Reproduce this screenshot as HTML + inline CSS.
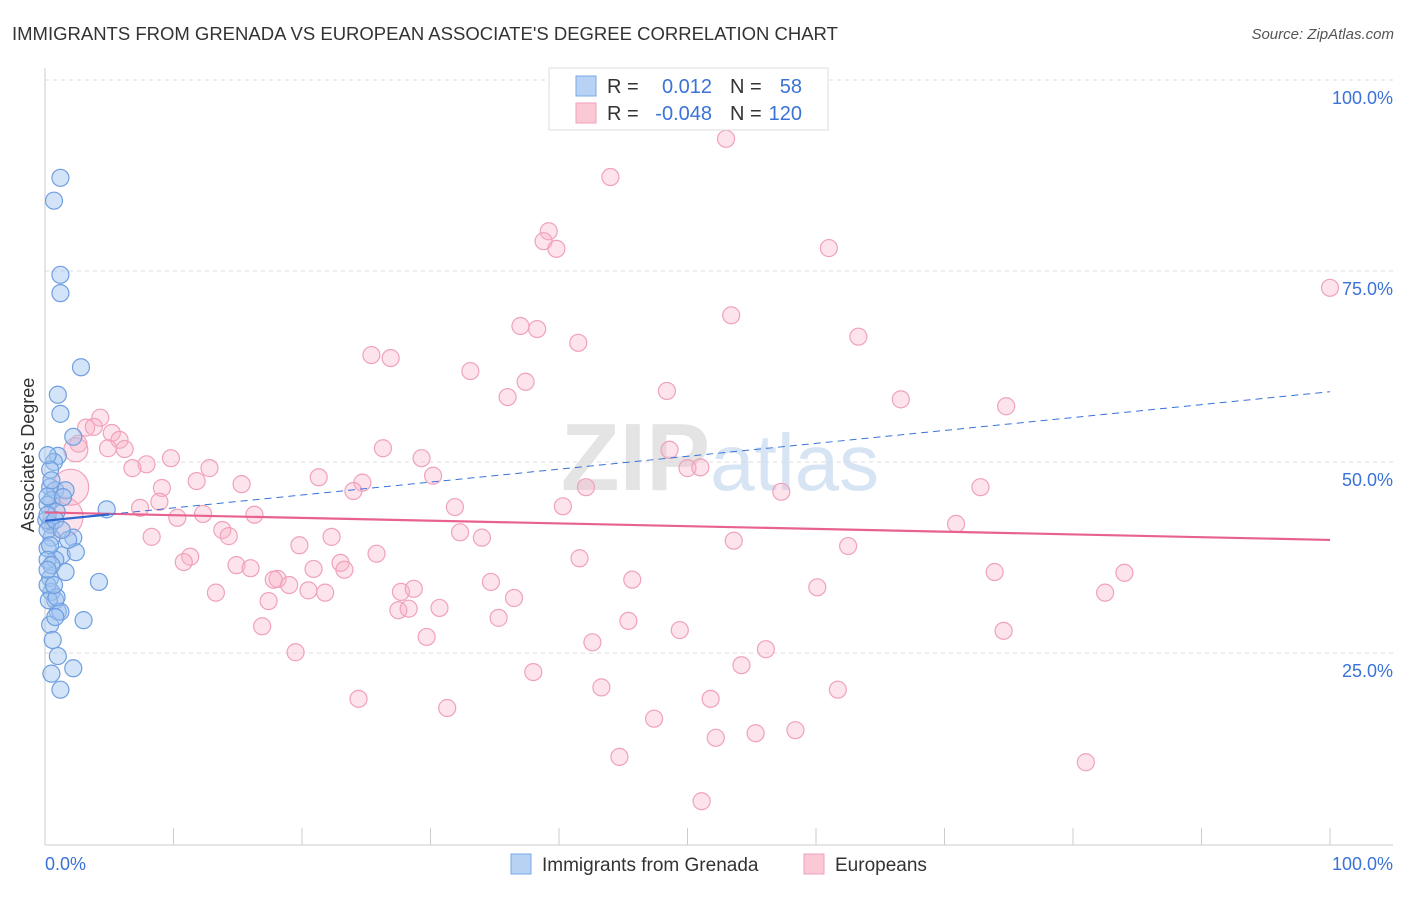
<!DOCTYPE html>
<html><head><meta charset="utf-8"><style>
body{margin:0;background:#fff;font-family:"Liberation Sans",sans-serif;}
svg text{font-family:"Liberation Sans",sans-serif;}
</style></head><body>
<svg id="chart" width="1406" height="892" xmlns="http://www.w3.org/2000/svg">
<text x="12" y="40" font-size="18.5" fill="#333">IMMIGRANTS FROM GRENADA VS EUROPEAN ASSOCIATE'S DEGREE CORRELATION CHART</text>
<text x="1394" y="39" font-size="15" fill="#555" text-anchor="end" font-style="italic">Source: ZipAtlas.com</text>
<text x="720" y="490" font-size="96" text-anchor="middle" fill="#e4e4e4" font-weight="bold" font-family="Liberation Serif">ZIP<tspan fill="#d6e4f4" font-family="Liberation Sans" font-weight="normal" font-size="80">atlas</tspan></text>
<g id="grid"></g>
<g id="axes"></g>
<g id="pts"></g>
<g id="trends"></g>
<text transform="translate(34,455) rotate(-90)" font-size="18" fill="#333" text-anchor="middle">Associate's Degree</text>
<g>
<rect x="549" y="68" width="279" height="62" fill="#fff" stroke="#ddd"/>
<rect x="576" y="76" width="20" height="20" fill="#b8d2f4" stroke="#7aa8e4"/>
<rect x="576" y="103" width="20" height="20" fill="#fbc8d6" stroke="#f0a0b8"/>
<text x="607" y="93" font-size="20" fill="#333">R =</text><text x="712" y="93" font-size="20" fill="#3a72d8" text-anchor="end">0.012</text>
<text x="730" y="93" font-size="20" fill="#333">N =</text><text x="802" y="93" font-size="20" fill="#3a72d8" text-anchor="end">58</text>
<text x="607" y="120" font-size="20" fill="#333">R =</text><text x="712" y="120" font-size="20" fill="#3a72d8" text-anchor="end">-0.048</text>
<text x="730" y="120" font-size="20" fill="#333">N =</text><text x="802" y="120" font-size="20" fill="#3a72d8" text-anchor="end">120</text>
</g>
<g>
<rect x="511" y="854" width="20" height="20" fill="#b8d2f4" stroke="#7aa8e4"/>
<text x="542" y="871" font-size="19" fill="#333">Immigrants from Grenada</text>
<rect x="804" y="854" width="20" height="20" fill="#fbc8d6" stroke="#f0a0b8"/>
<text x="835" y="871" font-size="19" fill="#333">Europeans</text>
</g>
</svg>
<script>
const blueX=[1.2,0.7,1.2,1.2,2.8,1.0,1.2,2.2,1.0,0.7,0.4,0.4,0.8,1.6,0.5,0.2,0.9,4.8,0.4,0.5,2.2,0.2,1.3,2.4,0.8,1.6,0.4,4.2,0.5,0.8,1.0,1.2,3.0,0.4,0.6,1.0,2.2,0.5,1.2,0.2,0.1,0.2,0.4,0.2,0.5,0.2,0.3,0.8,0.9,1.4,1.8,0.5,0.2,0.2,0.8,1.3,0.2,0.7];
const blueY=[87.2,84.2,74.5,72.1,62.4,58.8,56.3,53.3,50.8,50.0,49.0,46.7,46.3,46.3,45.0,44.4,43.5,43.8,41.8,40.1,40.1,38.7,37.8,38.2,37.2,35.6,34.8,34.3,33.0,31.9,30.4,30.4,29.3,28.7,26.7,24.6,23.0,22.3,20.2,45.5,42.4,41.1,39.1,37.2,36.5,33.9,31.9,29.7,32.3,45.4,39.8,47.6,50.9,43.1,42.4,41.1,35.9,33.9];
const pinkX=[53.0,44.0,39.2,38.8,39.8,61.0,100,53.4,37.0,38.3,41.5,63.3,25.4,26.9,33.1,37.4,48.4,36.0,66.6,74.8,4.3,3.2,5.2,3.8,5.8,2.6,4.9,6.2,26.3,29.3,9.8,7.9,6.8,48.6,50.0,51.0,12.8,30.2,21.3,11.8,15.3,24.7,42.1,24.0,57.3,72.8,9.1,8.9,7.4,31.9,40.3,10.3,12.3,16.3,13.8,14.3,32.3,8.3,22.3,34.0,53.6,70.9,62.5,19.8,25.8,41.6,11.3,10.8,14.9,16.0,20.9,23.0,23.3,18.1,17.8,19.0,27.7,28.7,34.7,45.7,73.9,84.0,13.3,17.4,20.5,21.8,36.5,60.1,82.5,27.5,28.3,30.7,35.3,45.4,16.9,49.4,74.6,29.7,42.6,56.1,19.5,54.2,38.0,43.3,61.7,24.4,51.8,31.3,47.4,58.4,52.2,55.3,44.7,81.0,51.1];
const pinkY=[92.3,87.3,80.2,78.9,77.9,78.0,72.8,69.2,67.8,67.4,65.6,66.4,64.0,63.6,61.9,60.5,59.3,58.5,58.2,57.3,55.8,54.5,53.8,54.6,52.9,52.4,51.8,51.7,51.8,50.5,50.5,49.7,49.2,51.6,49.2,49.3,49.2,48.2,48.0,47.5,47.1,47.3,46.7,46.2,46.1,46.7,46.6,44.8,44.0,44.1,44.2,42.7,43.2,43.1,41.1,40.3,40.8,40.2,40.2,40.1,39.7,41.9,39.0,39.1,38.0,37.4,37.6,36.9,36.5,36.1,36.0,36.8,35.9,34.7,34.6,33.9,33.0,33.4,34.3,34.6,35.6,35.5,32.9,31.8,33.2,32.9,32.2,33.6,32.9,30.6,30.8,30.9,29.6,29.2,28.5,28.0,27.9,27.1,26.4,25.5,25.1,23.4,22.5,20.5,20.2,19.0,19.0,17.8,16.4,14.9,13.9,14.5,11.4,10.7,5.6];
const bigPinkX=[1.4,2.0,2.4];
const bigPinkY=[42.8,46.7,51.6];
const yTicks=[25,50,75,100];
const yTickLabels=["25.0%","50.0%","75.0%","100.0%"];
const pinkTrend=[43.4,39.8];
const blueTrend=[42.3,59.2];
const NS='http://www.w3.org/2000/svg';
const X=v=>45+v*12.85, Y=v=>844-v*7.64;
function mk(tag,attrs,parent){const e=document.createElementNS(NS,tag);for(const k in attrs)e.setAttribute(k,attrs[k]);parent.appendChild(e);return e;}
const grid=document.getElementById('grid'),axes=document.getElementById('axes'),pts=document.getElementById('pts'),tr=document.getElementById('trends');
yTicks.forEach((t,i)=>{
 const l=mk('line',{x1:45,x2:1393,y1:Y(t),y2:Y(t),stroke:'#ddd','stroke-dasharray':'4,4'},grid);
 
 
 const tx=mk('text',{x:1393,y:Y(t)+24,'font-size':18,fill:'#3a72d8','text-anchor':'end'},grid);
 tx.textContent=yTickLabels[i];
 
 
});
const ax=mk('line',{x1:45,x2:1393,y1:845,y2:845,stroke:'#ccc'},axes);


const ay=mk('line',{x1:45,x2:45,y1:68,y2:845,stroke:'#ccc'},axes);


for(let i=1;i<=10;i++){const t=mk('line',{x1:X(i*10),x2:X(i*10),y1:828,y2:845,stroke:'#ccc'},axes);
 
 }
[[X(0),'start','0.0%'],[1393,'end','100.0%']].forEach(a=>{const t=mk('text',{x:a[0],y:870,'font-size':18,fill:'#3a72d8','text-anchor':a[1]},axes);t.textContent=a[2];
 
 });
pinkX.forEach((v,i)=>{const c=mk('circle',{cx:X(v),cy:Y(pinkY[i]),r:8.5,fill:'rgba(248,175,198,0.35)',stroke:'#f0a2ba','stroke-width':1.2},pts);
 
 });
bigPinkX.forEach((v,i)=>{const c=mk('circle',{cx:X(v),cy:Y(bigPinkY[i]),r:[20,18,12][i],fill:'rgba(248,175,198,0.35)',stroke:'#f0a2ba','stroke-width':1.2},pts);
 
 });
blueX.forEach((v,i)=>{const c=mk('circle',{cx:X(v),cy:Y(blueY[i]),r:8.5,fill:'rgba(160,196,240,0.45)',stroke:'#6f9fe0','stroke-width':1.2},pts);
 
 });
const p=mk('line',{x1:X(0),x2:X(100),y1:Y(pinkTrend[0]),y2:Y(pinkTrend[1]),stroke:'#e8628f','stroke-width':2.2},tr);


const bs=(blueTrend[1]-blueTrend[0])/100;
const bd=mk('line',{x1:X(5),x2:X(100),y1:Y(blueTrend[0]+5*bs),y2:Y(blueTrend[1]),stroke:'#3a72d8','stroke-width':1,'stroke-dasharray':'7,5'},tr);


const b=mk('line',{x1:X(0),x2:X(5),y1:Y(blueTrend[0]),y2:Y(blueTrend[0]+5*bs),stroke:'#2a66d0','stroke-width':2.2},tr);


</script>
</body></html>
